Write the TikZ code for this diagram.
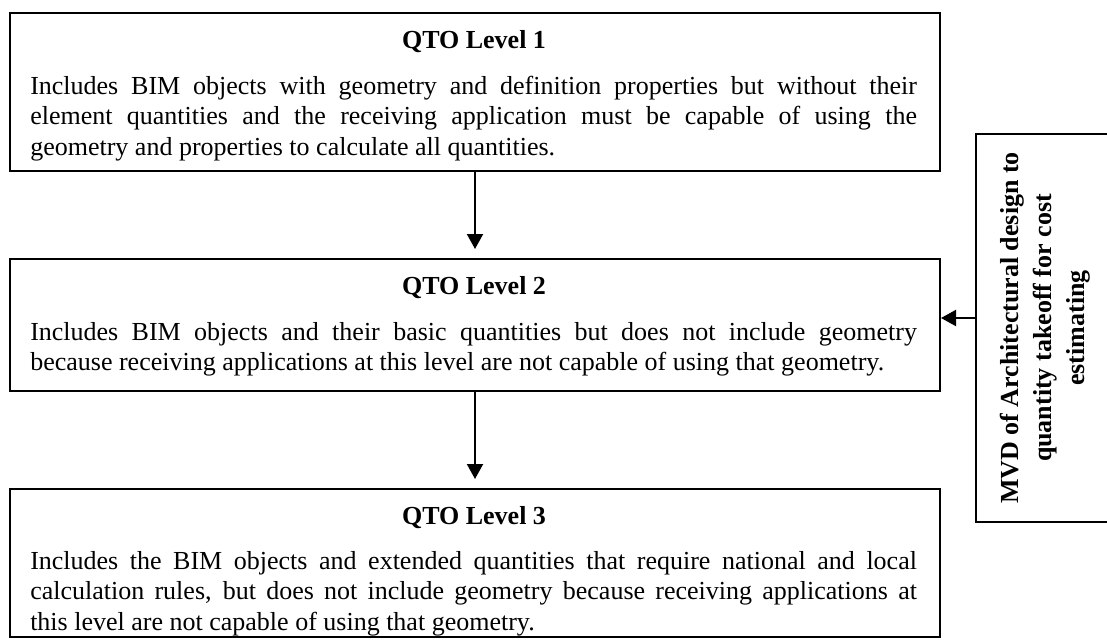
\documentclass[tikz,border=0pt]{standalone}
\usepackage{fontspec}
\setmainfont{Liberation Serif}
\usetikzlibrary{arrows.meta,calc}
\begin{document}
\begin{tikzpicture}[x=0.75pt,y=-0.75pt,
  box/.style={draw, line width=1.5pt, rectangle, inner sep=0pt, anchor=north west},
  ttl/.style={font=\fontsize{19.5}{23}\selectfont\bfseries, anchor=base, inner sep=0pt},
  body/.style={font=\fontsize{19.5}{22.9}\selectfont, text width=665pt, align=justify, anchor=base west, inner sep=0pt},
  side/.style={draw, line width=1.5pt, rectangle, inner sep=0pt, rotate=90, align=center,
    font=\fontsize{19.5}{24.75}\selectfont\bfseries},
  arr/.style={line width=1.5pt, -{Triangle[length=11.25pt,width=12pt]}}]
\useasboundingbox (0,0) rectangle (1107,640);
\clip (0,0) rectangle (1107,640);

\node[box, minimum width=697.5pt, minimum height=118.5pt] (b1) at (9,12) {};
\node[ttl] (t1) at (474,48) {QTO Level 1};
\node[body] (d1) at (30,94) {Includes BIM objects with geometry and definition properties but without their\linebreak element quantities and the receiving application must be capable of using the\linebreak geometry and properties to calculate all quantities.};

\node[box, minimum width=697.5pt, minimum height=99pt] (b2) at (9,258) {};
\node[ttl] (t2) at (474,294) {QTO Level 2};
\node[body] (d2) at (30,340) {Includes BIM objects and their basic quantities but does not include geometry\linebreak because receiving applications at this level are not capable of using that geometry.};

\node[box, minimum width=697.5pt, minimum height=111pt] (b3) at (9,488) {};
\node[ttl] (t3) at (474,524) {QTO Level 3};
\node[body] (d3) at (30,569) {Includes the BIM objects and extended quantities that require national and local\linebreak calculation rules, but does not include geometry because receiving applications at\linebreak this level are not capable of using that geometry.};

\node[side, minimum width=291pt, minimum height=103.5pt] (m) at (1045,328) {MVD of Architectural design to\\quantity takeoff for cost\\estimating};

\draw[arr, shorten >=6.75pt] (b1.south) -- (b2.north);
\draw[arr, shorten >=6.75pt] (b2.south) -- (b3.north);
\coordinate (a) at ($(b2.east)+(0,-7)$);
\draw[arr] (m.north |- a) -- (a);
\end{tikzpicture}
\end{document}
